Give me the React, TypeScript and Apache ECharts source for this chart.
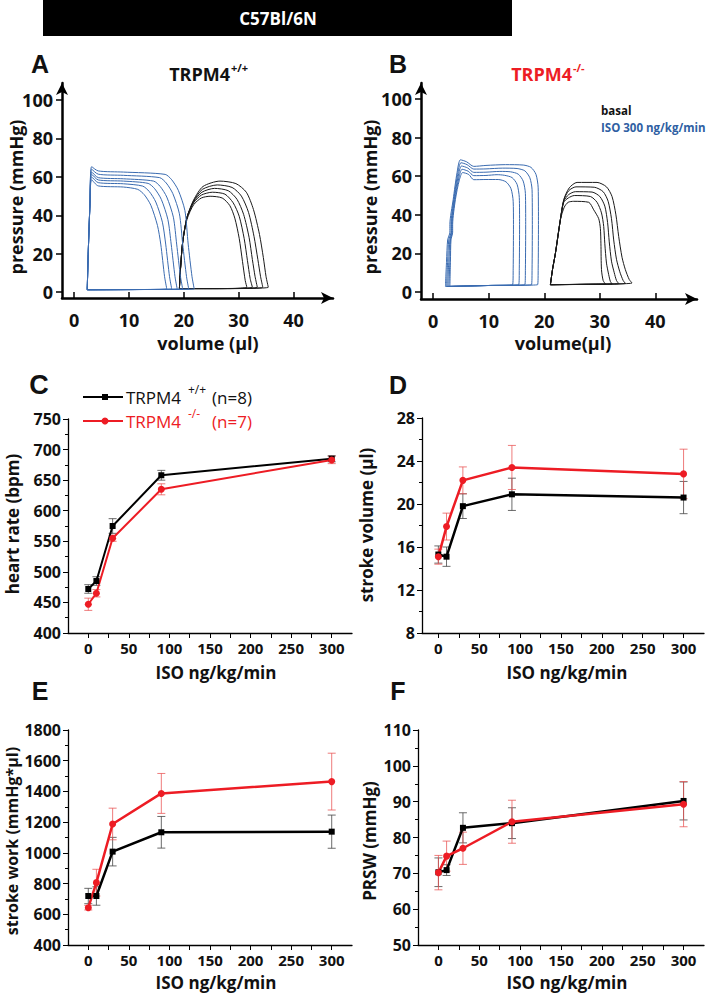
import React, { useEffect, useRef } from 'react';
import * as echarts from 'echarts';

// ---------- tick values ----------
const volumeTicks = [0, 10, 20, 30, 40];
const pressureTicks = [0, 20, 40, 60, 80, 100];
const doses = [0, 10, 30, 90, 300];
const doseLabels = [0, 50, 100, 150, 200, 250, 300];
const doseTicks = [0, 25, 50, 75, 100, 125, 150, 175, 200, 225, 250, 275, 300];

// ---------- PV loops (volume µl, pressure mmHg) ----------
const loopsA_iso = [
  [[2.4,1.2],[2.6,22],[2.9,46],[3.2,65.3],[4.4,63.1],[9,62.5],[16.6,61.3],[17.8,58.5],[19,53],[20.2,42.5],[20.8,25],[21.5,8],[21.9,1.6],[11,1.3],[2.4,1.2]],
  [[2.4,1.2],[2.6,22],[2.9,46],[3.2,64],[4.4,61.4],[9,60.8],[15.6,59.6],[16.8,56.8],[18,51.3],[19.2,40.8],[19.8,25],[20.5,8],[20.9,1.6],[11,1.3],[2.4,1.2]],
  [[2.4,1.2],[2.6,22],[2.9,46],[3.2,62.6],[4.4,59.6],[9,59],[14.5,57.8],[15.7,55],[16.9,49.5],[18.1,39],[18.7,25],[19.4,8],[19.8,1.6],[11,1.3],[2.4,1.2]],
  [[2.4,1.2],[2.6,22],[2.9,46],[3.2,61.4],[4.4,58.4],[9,57.8],[13.5,56.6],[14.7,53.8],[15.9,48.3],[17.1,37.8],[17.7,25],[18.4,8],[18.8,1.6],[11,1.3],[2.4,1.2]],
  [[2.4,1.2],[2.6,22],[2.9,46],[3.2,60],[4.4,57],[9,56.4],[12.5,55.2],[13.7,52.4],[14.9,46.9],[16.1,36.4],[16.7,25],[17.4,8],[17.8,1.6],[11,1.3],[2.4,1.2]],
  [[2.4,1.2],[2.6,22],[2.9,46],[3.2,58.5],[4.4,55.3],[9,54.7],[11.6,53.5],[12.8,50.7],[14,45.2],[15.2,34.7],[15.8,25],[16.5,8],[16.9,1.6],[11,1.3],[2.4,1.2]],
];
const loopsA_basal = [
  [[19.2,1.8],[19.4,12],[19.8,26],[20.6,39],[21.8,48],[23.5,55],[26.6,57.8],[29.5,56.5],[31.4,52],[32.7,43],[33.8,30],[34.5,18],[35,8],[35.4,2.5],[27,1.8],[19.2,1.8]],
  [[19.2,1.8],[19.4,12],[19.8,26],[20.6,39],[21.8,47.5],[23.4,53.5],[26.1,55.8],[28.8,54.5],[30.5,50],[31.8,41.5],[32.8,29],[33.5,17],[34,8],[34.4,2.5],[27,1.8],[19.2,1.8]],
  [[19.2,1.8],[19.4,12],[19.8,26],[20.6,39],[21.8,47],[23.3,52],[25.6,54],[28.1,52.8],[29.7,48.3],[30.9,40.5],[31.9,28.5],[32.5,17],[33,8],[33.4,2.5],[26,1.8],[19.2,1.8]],
  [[19.2,1.8],[19.4,12],[19.8,26],[20.6,39],[21.8,46.5],[23.2,50.5],[25.2,52],[27.5,51],[29,46.5],[30.1,39.5],[31,28],[31.6,16.5],[32.1,7],[32.5,2.5],[26,1.8],[19.2,1.8]],
  [[19.2,1.8],[19.4,12],[19.8,26],[20.6,38],[21.8,45.5],[23.2,49],[24.8,49.9],[27,49],[28.4,45],[29.3,38.5],[30.1,28],[30.7,16],[31.2,6],[31.5,2.5],[25,1.8],[19.2,1.8]],
];
const loopsB_iso = [
  [[2.2,2.9],[2.4,16],[2.6,27],[3.0,31],[3.0,35],[3.6,48],[4.3,62],[4.9,68.5],[6,67.5],[7.3,65.1],[9.5,65.6],[13,66],[16.2,65.8],[17.6,64.6],[18.5,61],[18.9,54],[18.95,35],[18.9,12],[18.8,3.8],[10,3.4],[2.2,2.9]],
  [[2.4,2.9],[2.6,16],[2.8,27],[3.2,31],[3.2,35],[3.7,48],[4.4,61],[5,67],[6.1,66],[7.3,63.7],[9.5,63.8],[12.5,64.2],[15.1,64],[16.5,62.8],[17.4,59.2],[17.8,53],[17.85,35],[17.8,12],[17.7,3.8],[10,3.4],[2.4,2.9]],
  [[2.6,2.9],[2.8,16],[3.0,27],[3.3,31],[3.3,35],[3.8,48],[4.5,60],[5.1,65.3],[6.2,64.3],[7.3,62],[9.5,62.1],[12,62.5],[13.9,62.3],[15.3,61.1],[16.2,57.5],[16.6,51],[16.65,35],[16.6,12],[16.5,3.8],[10,3.4],[2.6,2.9]],
  [[2.8,2.9],[3.0,16],[3.1,27],[3.4,31],[3.4,35],[3.9,48],[4.6,59],[5.2,63.6],[6.3,62.6],[7.3,60.3],[9.5,60.4],[11.5,60.8],[12.8,60.5],[14.2,59.3],[15.1,55.8],[15.5,49],[15.55,35],[15.5,12],[15.4,3.8],[10,3.4],[2.8,2.9]],
  [[3.0,2.9],[3.1,16],[3.2,27],[3.5,31],[3.5,35],[4.0,48],[4.7,58],[5.3,61.9],[6.4,60.9],[7.3,58.2],[9.5,58.3],[11.7,58.3],[13.1,57.1],[14,53.6],[14.4,47],[14.45,35],[14.4,12],[14.3,3.8],[10,3.4],[3.0,2.9]],
];
const loopsB_basal = [
  [[21.1,3.8],[21.5,12],[22,20],[22.9,37.5],[23.5,47.8],[24.5,54],[25.9,56.8],[29.5,56.8],[31.2,54.5],[32.2,49.5],[32.9,40],[33.4,28.8],[34,18],[34.6,11.6],[35.3,6.5],[35.8,4.7],[28,4],[21.1,3.8]],
  [[21.1,3.8],[21.5,12],[22,20],[22.9,37.5],[23.5,47.5],[24.4,52.5],[25.7,54.5],[29,54.3],[30.6,52],[31.5,47],[32.1,38],[32.5,27],[33,17],[33.6,10.5],[34.2,6],[34.6,4.5],[28,4],[21.1,3.8]],
  [[21.1,3.8],[21.5,12],[22,20],[22.9,37.5],[23.5,47],[24.4,50.5],[25.6,52],[28.6,51.8],[30,49.5],[30.9,44.5],[31.4,36],[31.7,26],[32.1,16],[32.6,10],[33,6],[33.4,4.4],[27,4],[21.1,3.8]],
  [[21.1,3.8],[21.5,12],[22,20],[22.9,37.5],[23.5,46.5],[24.3,48.7],[25.4,50],[28.3,49.5],[29.5,46.5],[30.3,41],[30.7,34],[30.9,25],[31.2,15],[31.6,9],[31.9,5.5],[32.2,4.3],[27,4],[21.1,3.8]],
  [[21.1,3.8],[21.5,12],[22,20],[22.9,37.5],[23.6,44],[24.3,46.5],[25.3,47],[28,46.5],[28.9,42.6],[29.8,38],[30.1,33],[30.2,25],[30.3,11.6],[30.6,6],[31,4.2],[26,4],[21.1,3.8]],
];

// ---------- dose-response data (mean, SEM) ----------
const hrWT = [472, 485, 575, 658, 685];
const hrWTerr = [7, 7, 12, 8, 5];
const hrKO = [447, 465, 555, 635, 683];
const hrKOerr = [10, 6, 5, 9, 6];

const svWT = [15.3, 15.1, 19.8, 20.9, 20.6];
const svWTerr = [0.8, 0.9, 1.15, 1.5, 1.5];
const svKO = [15.1, 17.9, 22.2, 23.4, 22.8];
const svKOerr = [0.7, 1.25, 1.25, 2.05, 2.3];

const swWT = [719, 719, 1008, 1134, 1138];
const swWTerr = [50, 60, 93, 103, 108];
const swKO = [643, 806, 1188, 1387, 1464];
const swKOerr = [15, 87, 103, 130, 185];

const prWT = [70.3, 70.9, 82.7, 84, 90.2];
const prWTerr = [4, 1.5, 4.2, 4.3, 5.3];
const prKO = [70.2, 74.8, 77, 84.4, 89.3];
const prKOerr = [4.8, 4.2, 4.5, 6, 6.3];

// ---------- styles ----------
const BLACK = '#000000';
const RED = '#ed1c24';
const BLUE = '#3a6bb0';
const FONT = "'Open Sans', 'Liberation Sans', sans-serif";
const ARIAL = "'Liberation Sans', Arial, sans-serif";
const plain = (v: number) => String(v);

function pvXAxis(gi: number, min: number, max: number) {
  return {
    type: 'value', gridIndex: gi, min, max,
    axisLine: { show: true, onZero: false, symbol: ['none', 'arrow'], symbolSize: [9, 12], lineStyle: { color: BLACK, width: 2.5 } },
    axisTick: { show: true, inside: true, length: 6, customValues: volumeTicks, lineStyle: { color: BLACK, width: 1.5 } },
    axisLabel: { customValues: volumeTicks, formatter: plain, fontSize: 18, fontWeight: 'bold', color: '#111', fontFamily: FONT, margin: 13 },
    splitLine: { show: false },
  };
}
function pvYAxis(gi: number, min: number, max: number) {
  return {
    type: 'value', gridIndex: gi, min, max,
    axisLine: { show: true, onZero: false, symbol: ['none', 'arrow'], symbolSize: [9, 12], lineStyle: { color: BLACK, width: 2.5 } },
    axisTick: { show: true, inside: false, length: 6, customValues: pressureTicks, lineStyle: { color: BLACK, width: 1.5 } },
    axisLabel: { customValues: pressureTicks, formatter: plain, fontSize: 18, fontWeight: 'bold', color: '#111', fontFamily: FONT, margin: 9 },
    splitLine: { show: false },
  };
}
function doseXAxis(gi: number, min: number, max: number) {
  return {
    type: 'value', gridIndex: gi, min, max,
    axisLine: { show: true, onZero: false, lineStyle: { color: BLACK, width: 1.3 } },
    axisTick: { show: true, inside: false, length: 5, customValues: doseTicks, lineStyle: { color: BLACK, width: 1 } },
    axisLabel: { customValues: doseLabels, formatter: plain, fontSize: 15, fontWeight: 'bold', color: '#111', fontFamily: FONT, margin: 7 },
    splitLine: { show: false },
  };
}
function doseYAxis(gi: number, min: number, max: number, interval: number) {
  return {
    type: 'value', gridIndex: gi, min, max, interval,
    axisLine: { show: true, onZero: false, lineStyle: { color: BLACK, width: 1.3 } },
    axisTick: { show: true, inside: false, length: 5, lineStyle: { color: BLACK, width: 1 } },
    minorTick: { show: true, splitNumber: 2, length: 3, lineStyle: { color: BLACK, width: 1 } },
    axisLabel: { formatter: plain, fontSize: 16, fontWeight: 'bold', color: '#111', fontFamily: FONT, margin: 7 },
    splitLine: { show: false },
    minorSplitLine: { show: false },
  };
}

function loopSeries(gi: number, loop: number[][], color: string) {
  return {
    type: 'line', xAxisIndex: gi, yAxisIndex: gi, data: loop,
    showSymbol: false, symbol: 'none', smooth: 0.25, silent: true,
    lineStyle: { color, width: 1 }, z: 2,
  };
}
function meanSeries(gi: number, name: string, vals: number[], color: string, symbol: string, size: number, width: number) {
  return {
    type: 'line', name, xAxisIndex: gi, yAxisIndex: gi,
    data: doses.map((d, i) => [d, vals[i]]),
    symbol, symbolSize: size, showSymbol: true, silent: true,
    lineStyle: { color, width }, itemStyle: { color }, z: 4,
  };
}
function errSeries(gi: number, vals: number[], errs: number[], color: string) {
  return {
    type: 'custom', xAxisIndex: gi, yAxisIndex: gi, silent: true, z: 3,
    data: doses.map((d, i) => [d, vals[i] - errs[i], vals[i] + errs[i]]),
    encode: { x: 0, y: [1, 2] },
    renderItem: (params: any, api: any) => {
      const x = api.value(0);
      const lo = api.coord([x, api.value(1)]);
      const hi = api.coord([x, api.value(2)]);
      const w = 4;
      const st = { stroke: color, lineWidth: 1 };
      return {
        type: 'group',
        children: [
          { type: 'line', shape: { x1: lo[0], y1: lo[1], x2: hi[0], y2: hi[1] }, style: st },
          { type: 'line', shape: { x1: lo[0] - w, y1: lo[1], x2: lo[0] + w, y2: lo[1] }, style: st },
          { type: 'line', shape: { x1: hi[0] - w, y1: hi[1], x2: hi[0] + w, y2: hi[1] }, style: st },
        ],
      };
    },
  };
}

function txt(text: string, x: number, y: number, size: number, opts: any = {}) {
  const align = opts.align || 'center';
  return {
    type: 'text', x, y, rotation: opts.rotation || 0, silent: true, z: 10,
    style: {
      text, fill: opts.color || '#111', fontSize: size, fontWeight: opts.weight || 'bold',
      fontFamily: opts.family || FONT, textAlign: align, align,
      textVerticalAlign: 'middle', verticalAlign: 'middle',
    },
  };
}

export default function App() {
  const ref = useRef<HTMLDivElement>(null);
  useEffect(() => {
    document.body.style.margin = '0';
    if (!ref.current) return;
    const chart = echarts.init(ref.current, undefined, { renderer: 'svg' });

    const series: any[] = [];
    loopsA_basal.forEach((l) => series.push(loopSeries(0, l, '#1a1a1a')));
    loopsA_iso.forEach((l) => series.push(loopSeries(0, l, BLUE)));
    loopsB_basal.forEach((l) => series.push(loopSeries(1, l, '#1a1a1a')));
    loopsB_iso.forEach((l) => series.push(loopSeries(1, l, BLUE)));

    const panels = [
      { gi: 2, wt: hrWT, wte: hrWTerr, ko: hrKO, koe: hrKOerr, w: 2 },
      { gi: 3, wt: svWT, wte: svWTerr, ko: svKO, koe: svKOerr, w: 2.5 },
      { gi: 4, wt: swWT, wte: swWTerr, ko: swKO, koe: swKOerr, w: 2.5 },
      { gi: 5, wt: prWT, wte: prWTerr, ko: prKO, koe: prKOerr, w: 2.5 },
    ];
    panels.forEach((p) => {
      series.push(errSeries(p.gi, p.wt, p.wte, 'rgba(70,70,70,0.8)'));
      series.push(errSeries(p.gi, p.ko, p.koe, 'rgba(232,80,80,0.75)'));
      series.push(meanSeries(p.gi, 'TRPM4 +/+', p.wt, BLACK, 'rect', 6, p.w));
      series.push(meanSeries(p.gi, 'TRPM4 -/-', p.ko, RED, 'circle', 7, p.w));
    });

    const graphics: any[] = [
      { type: 'rect', shape: { x: 43, y: 0, width: 469, height: 36 }, style: { fill: '#000' }, silent: true },
      txt('C57Bl/6N', 278, 18, 17, { color: '#fff' }),
      // panel letters
      txt('A', 40, 64, 25, { family: ARIAL }),
      txt('B', 398, 64, 25, { family: ARIAL }),
      txt('C', 39, 385, 27, { family: ARIAL }),
      txt('D', 398, 385, 25, { family: ARIAL }),
      txt('E', 40, 691, 25, { family: ARIAL }),
      txt('F', 398, 691, 25, { family: ARIAL }),
      // titles
      txt('TRPM4', 230, 74, 18, { align: 'right' }),
      txt('+/+', 231, 67, 11, { align: 'left' }),
      txt('TRPM4', 572, 74, 18, { align: 'right', color: RED }),
      txt('-/-', 573, 67, 11, { align: 'left', color: RED }),
      // legend B
      txt('basal', 601, 110, 11.5, { align: 'left', color: '#111' }),
      txt('ISO 300 ng/kg/min', 601, 127, 11.5, { align: 'left', color: '#2f5fa3' }),
      // axis names A/B
      txt('pressure (mmHg)', 16, 197, 18, { rotation: Math.PI / 2 }),
      txt('volume (µl)', 208, 343, 18),
      txt('pressure (mmHg)', 370, 197, 18, { rotation: Math.PI / 2 }),
      txt('volume(µl)', 563, 343, 18),
      // axis names C-F
      txt('heart rate (bpm)', 12, 524, 17, { rotation: Math.PI / 2 }),
      txt('ISO ng/kg/min', 216, 672, 17),
      txt('stroke volume (µl)', 366, 525, 17, { rotation: Math.PI / 2 }),
      txt('ISO ng/kg/min', 567, 672, 17),
      txt('stroke work (mmHg*µl)', 12, 841, 16, { rotation: Math.PI / 2 }),
      txt('ISO ng/kg/min', 216, 982, 17),
      txt('PRSW (mmHg)', 369, 841, 17, { rotation: Math.PI / 2 }),
      txt('ISO ng/kg/min', 567, 982, 17),
      // legend C
      { type: 'line', shape: { x1: 83, y1: 397, x2: 123, y2: 397 }, style: { stroke: BLACK, lineWidth: 2 }, silent: true },
      { type: 'rect', shape: { x: 102, y: 394, width: 6, height: 6 }, style: { fill: BLACK }, silent: true },
      txt('TRPM4', 126, 397, 17, { align: 'left', weight: 'normal' }),
      txt('+/+', 188, 389, 12, { align: 'left', weight: 'normal' }),
      txt('(n=8)', 212, 397, 17, { align: 'left', weight: 'normal' }),
      { type: 'line', shape: { x1: 83, y1: 421, x2: 123, y2: 421 }, style: { stroke: RED, lineWidth: 2 }, silent: true },
      { type: 'circle', shape: { cx: 105, cy: 421, r: 3.5 }, style: { fill: RED }, silent: true },
      txt('TRPM4', 126, 421, 17, { align: 'left', weight: 'normal', color: RED }),
      txt('-/-', 188, 413, 12, { align: 'left', weight: 'normal', color: RED }),
      txt('(n=7)', 212, 421, 17, { align: 'left', weight: 'normal', color: RED }),
    ];

    chart.setOption({
      animation: false,
      backgroundColor: '#ffffff',
      grid: [
        { left: 62, top: 83, width: 271, height: 215 },
        { left: 421, top: 83, width: 276, height: 216 },
        { left: 68, top: 419, width: 284, height: 214 },
        { left: 422, top: 418, width: 282, height: 215 },
        { left: 68, top: 730, width: 284, height: 215 },
        { left: 418, top: 730, width: 286, height: 215 },
      ],
      xAxis: [
        pvXAxis(0, -2.2, 47.2),
        pvXAxis(1, -2.2, 47.5),
        doseXAxis(2, -25, 325),
        doseXAxis(3, -20, 325),
        doseXAxis(4, -25, 325),
        doseXAxis(5, -25, 325),
      ],
      yAxis: [
        pvYAxis(0, -3.1, 108.9),
        pvYAxis(1, -3.6, 108.3),
        doseYAxis(2, 400, 750, 50),
        doseYAxis(3, 8, 28, 4),
        doseYAxis(4, 400, 1800, 200),
        doseYAxis(5, 50, 110, 10),
      ],
      series,
      graphic: { elements: graphics },
    });
    return () => chart.dispose();
  }, []);
  return <div ref={ref} style={{ width: 708, height: 997 }} />;
}
